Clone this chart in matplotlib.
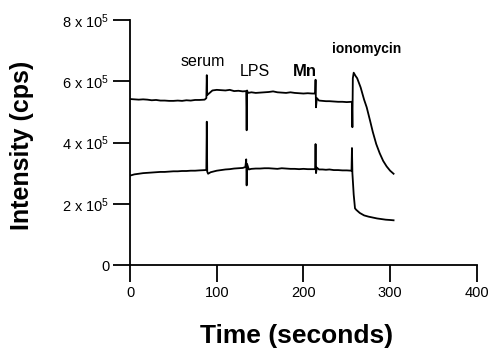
import matplotlib
matplotlib.use("Agg")
import matplotlib.pyplot as plt

plt.rcParams['font.family'] = ['Liberation Sans', 'DejaVu Sans']
plt.rcParams['mathtext.default'] = 'regular'

# Upper trace (time s, intensity in 1e5 cps)
upper_t = [0, 5, 10, 15, 20, 25, 30, 35, 40, 45, 50, 55, 60, 65, 70, 75, 80, 86, 88, 88.5, 89, 91, 95,
           100, 105, 110, 115, 120, 125, 130, 134, 134.5, 135, 136, 140, 145, 150, 155, 160, 165, 170,
           175, 180, 185, 190, 195, 200, 205, 210, 213.5, 214, 214.5, 215.5, 218, 222, 226, 230, 235,
           240, 245, 250, 256, 256.5, 257, 258, 260, 262, 266, 270, 273, 277, 280, 284, 288, 292, 296,
           300, 304]
upper_v = [5.42, 5.41, 5.40, 5.41, 5.40, 5.38, 5.39, 5.37, 5.37, 5.36, 5.36, 5.37, 5.36, 5.38, 5.37,
           5.39, 5.39, 5.40, 5.45, 6.20, 5.55, 5.60, 5.70, 5.72, 5.71, 5.70, 5.72, 5.68, 5.69, 5.67, 5.68,
           4.40, 5.70, 5.62, 5.64, 5.62, 5.63, 5.64, 5.65, 5.67, 5.64, 5.63, 5.62, 5.64, 5.62, 5.61, 5.60,
           5.61, 5.60, 5.60, 6.05, 5.15, 5.45, 5.37, 5.36, 5.35, 5.35, 5.34, 5.33, 5.33, 5.32, 5.33, 4.50,
           6.10, 6.28, 6.18, 6.10, 5.80, 5.40, 5.15, 4.70, 4.35, 3.95, 3.65, 3.40, 3.22, 3.08, 2.98]

# Lower trace
lower_t = [0, 5, 10, 15, 20, 25, 30, 35, 40, 45, 50, 55, 60, 65, 70, 75, 80, 87, 88, 88.5, 89, 90, 93,
           100, 105, 110, 115, 120, 125, 130, 133, 134, 134.5, 135, 137, 140, 145, 150, 155, 160, 165,
           170, 175, 180, 185, 190, 195, 200, 205, 210, 213.5, 214, 214.5, 215.5, 218, 222, 226, 230, 235,
           240, 245, 250, 255.5, 256, 256.5, 258, 259.5, 261, 265, 270, 275, 280, 285, 290, 295, 300, 304]
lower_v = [2.92, 2.96, 2.98, 3.00, 3.01, 3.02, 3.03, 3.04, 3.04, 3.05, 3.06, 3.06, 3.07, 3.07, 3.08, 3.08,
           3.09, 3.10, 3.12, 4.68, 3.05, 2.98, 3.03, 3.08, 3.10, 3.12, 3.13, 3.15, 3.16, 3.17, 3.20, 3.45,
           2.60, 3.30, 3.12, 3.14, 3.15, 3.15, 3.16, 3.16, 3.15, 3.14, 3.16, 3.15, 3.14, 3.14, 3.13, 3.14,
           3.13, 3.13, 3.13, 3.95, 3.00, 3.18, 3.12, 3.12, 3.11, 3.12, 3.10, 3.10, 3.09, 3.09, 3.08, 3.82,
           3.00, 2.30, 1.85, 1.80, 1.70, 1.62, 1.58, 1.55, 1.52, 1.50, 1.48, 1.47, 1.46]

x_ticks = [0, 100, 200, 300, 400]
y_ticks = [0, 2, 4, 6, 8]
y_tick_labels = ['0', '2 x 10$^{5}$', '4 x 10$^{5}$', '6 x 10$^{5}$', '8 x 10$^{5}$']

annotations = [('serum', 84, 6.50, 'normal', 11.5), ('LPS', 144, 6.18, 'normal', 11.5),
               ('Mn', 202, 6.18, 'bold', 12), ('ionomycin', 273, 6.93, 'bold', 10)]

fig = plt.figure(figsize=(4.89, 3.54), dpi=100)
ax = fig.add_axes([0.266, 0.2514, 0.709, 0.692])

ax.plot(upper_t, [v * 1e5 for v in upper_v], color='black', lw=1.3)
ax.plot(lower_t, [v * 1e5 for v in lower_v], color='black', lw=1.3)

ax.set_xlim(0, 400)
ax.set_ylim(0, 8e5)
ax.set_xticks(x_ticks)
ax.set_yticks([v * 1e5 for v in y_ticks])
ax.set_yticklabels(y_tick_labels)
ax.spines['top'].set_visible(False)
ax.spines['right'].set_visible(False)
ax.spines['left'].set_linewidth(1.3)
ax.spines['bottom'].set_linewidth(1.3)
ax.tick_params(direction='out', length=12, width=1.3, labelsize=10.5, pad=3)

for label, t, v, w, fs in annotations:
    ax.text(t, v * 1e5, label, ha='center', va='baseline', fontsize=fs, fontweight=w)

fig.text(0.045, 0.590, 'Intensity (cps)', rotation=90, ha='center', va='center',
         fontsize=18, fontweight='bold')
fig.text(0.607, 0.03, 'Time (seconds)', ha='center', va='baseline', fontsize=19, fontweight='bold')

fig.savefig('out.png', dpi=100)
